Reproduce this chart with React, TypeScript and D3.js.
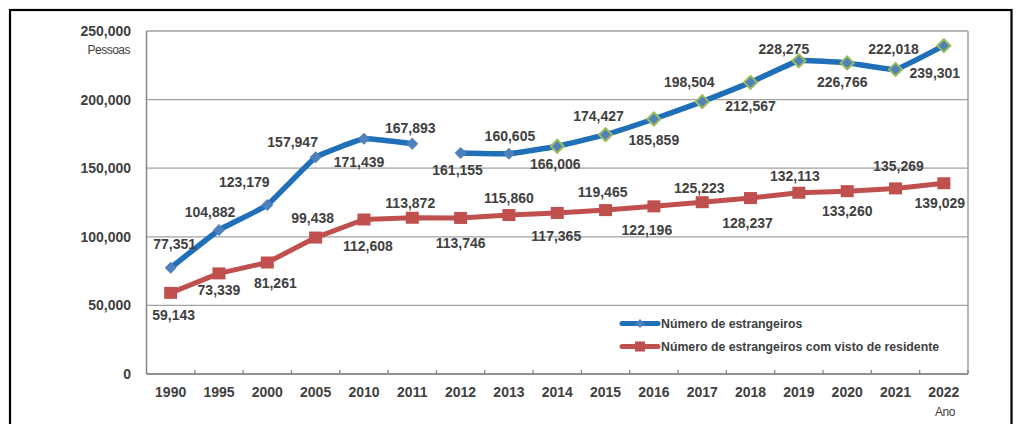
import React from "react";
import * as d3 from "d3";

const years = ["1990","1995","2000","2005","2010","2011","2012","2013","2014","2015","2016","2017","2018","2019","2020","2021","2022"];
const foreigners = [77351,104882,123179,157947,171439,167893,161155,160605,166006,174427,185859,198504,212567,228275,226766,222018,239301];
const residents = [59143,73339,81261,99438,112608,113872,113746,115860,117365,119465,122196,125223,128237,132113,133260,135269,139029];
const yTicks = [0,50000,100000,150000,200000,250000];
const seriesNames = ["Número de estrangeiros","Número de estrangeiros com visto de residente"];

// label placement offsets (layout)
const blueLabelOffsets: [number, number][] = [
  [4,-24],[-9,-18],[-23,-23],[-23,-15],[-5,23],[-2,-16],[-3,17],[1,-18],[-2,18],[-7,-19],[0,21],[-13,-20],[0,24],[-15,-12],[-5,19],[-2,-20],[-9,27],
];
const redLabelOffsets: [number, number][] = [
  [3,22],[0,17],[8,20],[-3,-20],[4,26],[-2,-15],[0,25],[0,-17],[-1,23],[-3,-18],[-7,24],[-3,-14],[-3,25],[-4,-17],[0,20],[3,-22],[-4,20],
];

const W = 1016, H = 424;
const left = 146.5, right = 968, top = 31, bottom = 374;
const FONT = "'Liberation Sans', Arial, sans-serif";
const TXT = "#404040";
const BLUE_LINE = "#1F70B8";
const BLUE_MK = "#4F81BD";
const GREEN = "#9BBB59";
const RED = "#C0504D";

export default function App() {
  const x = d3.scaleBand<string>().domain(years).range([left, right]).paddingInner(0).paddingOuter(0);
  const y = d3.scaleLinear().domain([0, 250000]).range([bottom, top]);
  const cx = (i: number) => (x(years[i]) as number) + x.bandwidth() / 2;
  const fmt = d3.format(",");
  const gapIdx = 6; // break in series between 2011 and 2012

  const mkPath = (idx: number[], vals: number[], curve: any) =>
    d3.line<number>().x((i) => cx(i)).y((i) => y(vals[i])).curve(curve)(idx) as string;
  const idxAll = years.map((_, i) => i);
  const idxA = idxAll.filter((i) => i < gapIdx);
  const idxB = idxAll.filter((i) => i >= gapIdx);
  const smooth = d3.curveCardinal.tension(0.7);

  const diamond = (px: number, py: number, r: number) =>
    `M${px},${py - r}L${px + r},${py}L${px},${py + r}L${px - r},${py}Z`;

  const edges = years.slice(1).map((yr) => x(yr) as number).concat([right]);

  return (
    <svg width={W} height={H} style={{ position: "absolute", left: 0, top: 0, background: "#fff" }} fontFamily={FONT}>
      <rect x={0} y={0} width={W} height={H} fill="#fff" />
      {/* outer frame */}
      <rect x={10} y={10} width={1001.5} height={H + 20} fill="none" stroke="#000" strokeWidth={2.2} />
      {/* gridlines */}
      {yTicks.map((t) => (
        <line key={t} x1={left} x2={right} y1={y(t)} y2={y(t)} stroke="#a0a0a0" strokeWidth={1.3} />
      ))}
      {/* right border */}
      <line x1={right} x2={right} y1={top} y2={bottom} stroke="#a0a0a0" strokeWidth={1.5} />
      {/* axes */}
      <line x1={left} x2={left} y1={top} y2={bottom} stroke="#868686" strokeWidth={1.5} />
      <line x1={left} x2={right} y1={bottom} y2={bottom} stroke="#868686" strokeWidth={1.5} />
      {edges.map((ex, i) => (
        <line key={i} x1={ex} x2={ex} y1={bottom} y2={bottom - 4} stroke="#868686" strokeWidth={1.3} />
      ))}
      {/* y tick labels */}
      {yTicks.map((t) => (
        <text key={t} x={131} y={y(t)} textAnchor="end" dominantBaseline="central" fontSize={14} fontWeight="bold" fill={TXT}>
          {fmt(t)}
        </text>
      ))}
      <text x={130} y={50} textAnchor="end" dominantBaseline="central" fontSize={12} fill={TXT} letterSpacing={-0.5}>Pessoas</text>
      {/* x tick labels */}
      {years.map((yr, i) => (
        <text key={yr} x={cx(i)} y={392} textAnchor="middle" dominantBaseline="central" fontSize={14} fontWeight="bold" fill={TXT}>
          {yr}
        </text>
      ))}
      <text x={945} y={411.5} textAnchor="middle" dominantBaseline="central" fontSize={12} fill={TXT} letterSpacing={-0.5}>Ano</text>

      {/* red series */}
      <path d={mkPath(idxAll, residents, d3.curveLinear)} fill="none" stroke={RED} strokeWidth={5} strokeLinejoin="round" />
      {residents.map((v, i) => (
        <rect key={i} x={cx(i) - 6.5} y={y(v) - 6} width={13} height={12} fill={RED} />
      ))}

      {/* blue series */}
      <path d={mkPath(idxA, foreigners, smooth)} fill="none" stroke={BLUE_LINE} strokeWidth={5.5} strokeLinejoin="round" />
      <path d={mkPath(idxB, foreigners, smooth)} fill="none" stroke={BLUE_LINE} strokeWidth={5.5} strokeLinejoin="round" />
      {foreigners.map((v, i) => (
        <path
          key={i}
          d={diamond(cx(i), y(v), i >= 8 ? 6.5 : 6)}
          fill={BLUE_MK}
          stroke={i >= 8 ? GREEN : "none"}
          strokeWidth={i >= 8 ? 2 : 0}
        />
      ))}

      {/* data labels */}
      {foreigners.map((v, i) => (
        <text key={"b" + i} x={cx(i) + blueLabelOffsets[i][0]} y={y(v) + blueLabelOffsets[i][1]} textAnchor="middle" dominantBaseline="central" fontSize={14} fontWeight="bold" fill={TXT}>
          {fmt(v)}
        </text>
      ))}
      {residents.map((v, i) => (
        <text key={"r" + i} x={cx(i) + redLabelOffsets[i][0]} y={y(v) + redLabelOffsets[i][1]} textAnchor="middle" dominantBaseline="central" fontSize={14} fontWeight="bold" fill={TXT}>
          {fmt(v)}
        </text>
      ))}

      {/* legend */}
      <g>
        <line x1={622} x2={658} y1={323.5} y2={323.5} stroke={BLUE_LINE} strokeWidth={5} strokeLinecap="round" />
        <path d={diamond(640, 323.5, 4.5)} fill={BLUE_MK} />
        <text x={661} y={323.5} dominantBaseline="central" fontSize={12.3} fontWeight="bold" fill={TXT}>{seriesNames[0]}</text>
        <line x1={622} x2={658} y1={346.5} y2={346.5} stroke={RED} strokeWidth={5} strokeLinecap="round" />
        <rect x={635} y={341.5} width={10} height={10} fill={RED} />
        <text x={661} y={346.5} dominantBaseline="central" fontSize={12.3} fontWeight="bold" fill={TXT}>{seriesNames[1]}</text>
      </g>
    </svg>
  );
}
